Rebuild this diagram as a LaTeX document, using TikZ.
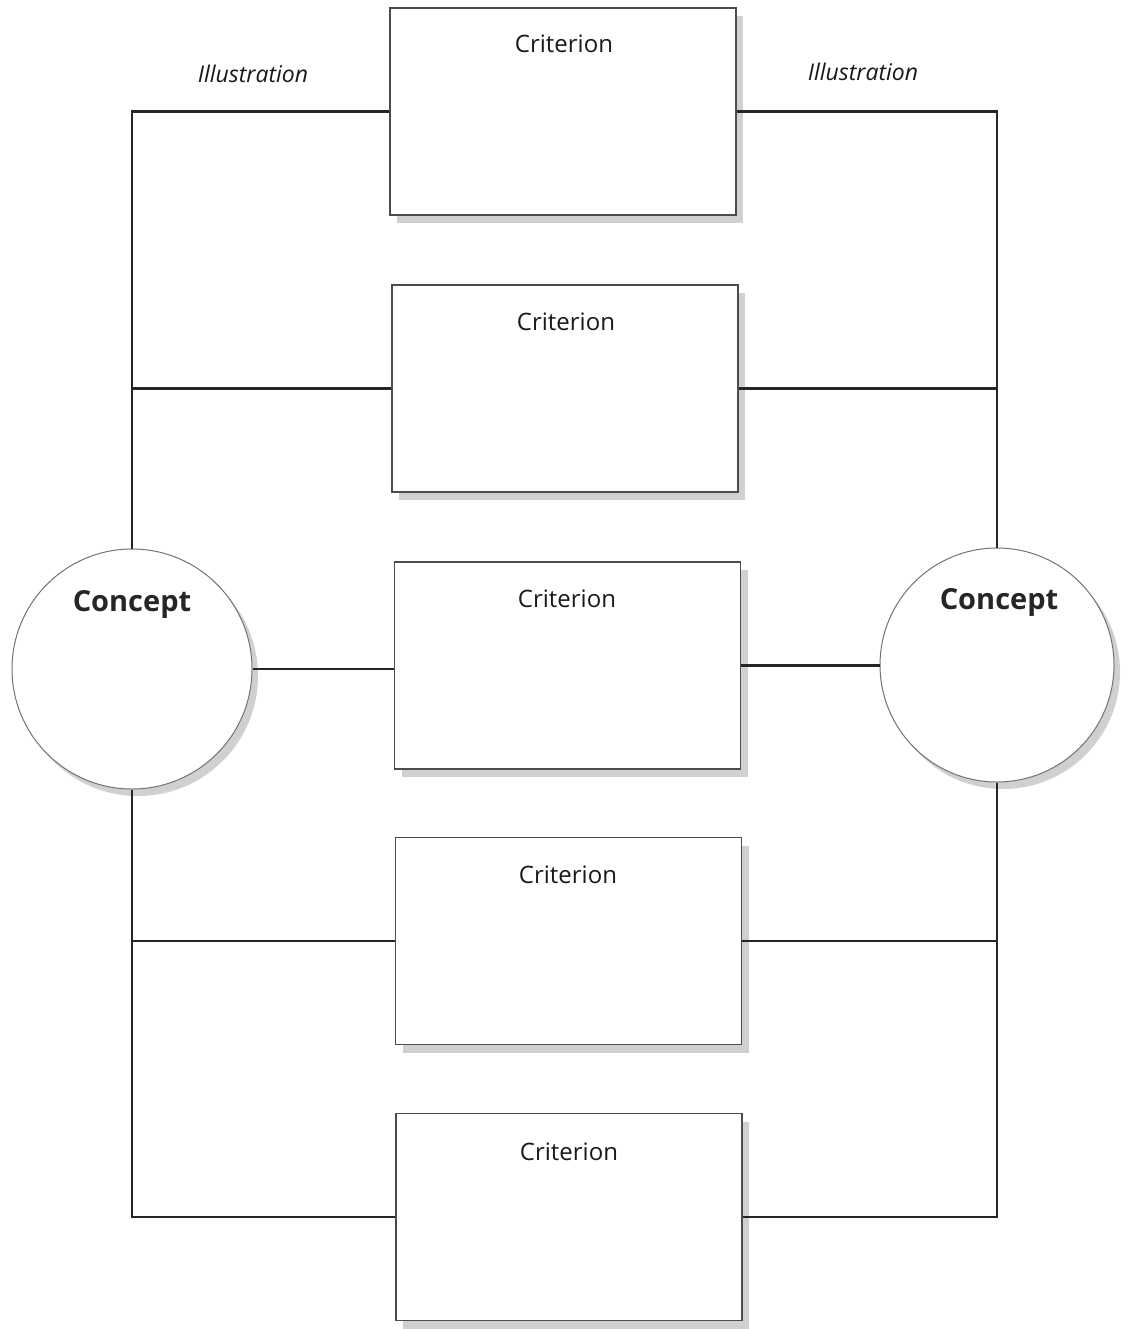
\documentclass[tikz,border=0pt]{standalone}
\usepackage{fontspec}
\setmainfont{Open Sans}
\usetikzlibrary{shadows}
\begin{document}
\begin{tikzpicture}[x=1pt,y=-1pt,
  cbox/.style={draw=black!70,line width=1.3pt,fill=white,minimum width=346pt,minimum height=207pt,inner sep=0pt,
    drop shadow={shadow xshift=7pt,shadow yshift=-8pt,fill=black!30,opacity=0.6}},
  ccirc/.style={circle,draw=black!55,line width=1pt,fill=white,minimum size=240pt,inner sep=0pt,
    drop shadow={shadow xshift=6pt,shadow yshift=-7pt,fill=black!30,opacity=0.6}},
  crit/.style={anchor=base,font=\fontsize{24}{28}\selectfont,text=black!90},
  conc/.style={anchor=base,font=\fontsize{29}{34}\selectfont\bfseries,text=black!85},
  illu/.style={anchor=base,font=\fontsize{23}{28}\selectfont\itshape,text=black!90},
  conn/.style={line width=2.6pt,draw=black!85}]
\fill[white] (0,0) rectangle (1127,1329);
\useasboundingbox (0,0) rectangle (1127,1329);
% boxes
\node[cbox] (b1) at (563,111.5) {};
\node[cbox] (b2) at (565,388.5) {};
\node[cbox] (b3) at (567.5,665.5) {};
\node[cbox] (b4) at (568.5,941) {};
\node[cbox] (b5) at (569,1217) {};
\node[crit] (t1) at (564,53) {Criterion};
\node[crit] (t2) at (566,330) {Criterion};
\node[crit] (t3) at (567,607) {Criterion};
\node[crit] (t4) at (568,883) {Criterion};
\node[crit] (t5) at (569,1160) {Criterion};
% circles
\node[ccirc] (cL) at (132,669) {};
\node[ccirc,minimum size=234pt] (cR) at (997,665) {};
\node[conc] (kL) at (132,611) {Concept};
\node[conc] (kR) at (999,609) {Concept};
% labels
\node[illu] (iL) at (253,83) {Illustration};
\node[illu] (iR) at (863,81) {Illustration};
% left connectors
\draw[conn] (b1.west) -| (cL.north);
\draw[conn] (b2.west) -- (b2.west -| cL.north);
\draw[conn] (cL.east) -- (cL.east -| b3.west);
\draw[conn] (b4.west) -- (b4.west -| cL.south);
\draw[conn] (cL.south) |- (b5.west);
% right connectors
\draw[conn] (b1.east) -| (cR.north);
\draw[conn] (b2.east) -- (b2.east -| cR.north);
\draw[conn] (b3.east) -- (b3.east -| cR.west);
\draw[conn] (b4.east) -- (b4.east -| cR.south);
\draw[conn] (cR.south) |- (b5.east);
\end{tikzpicture}
\end{document}
